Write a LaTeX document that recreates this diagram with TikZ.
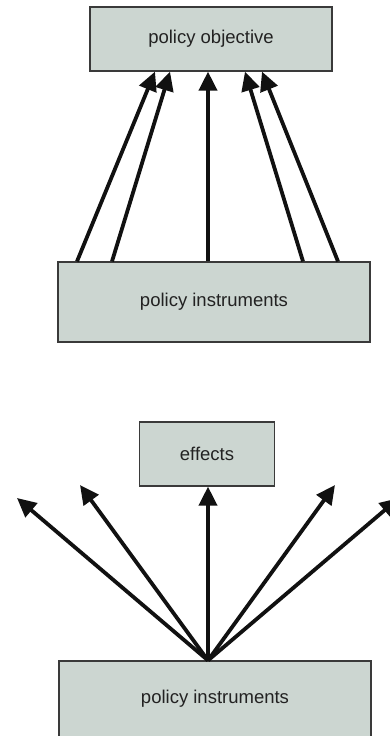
\documentclass[tikz,border=0pt]{standalone}
\usepackage{fontspec}
\setmainfont{Liberation Sans}
\usetikzlibrary{arrows.meta,positioning}

\definecolor{boxfill}{HTML}{CCD6D1}
\definecolor{boxline}{HTML}{3A3A3A}
\definecolor{boxtext}{HTML}{222222}
\definecolor{linkcol}{HTML}{111111}

\tikzset{
  box/.style={draw=boxline, fill=boxfill, line width=1.2pt, inner sep=0pt,
    font=\fontsize{18.5}{22}\selectfont, text=boxtext},
  link/.style={line width=3.8pt, draw=linkcol, fill=linkcol,
    -{Triangle[length=19pt,width=18pt]}},
}

\begin{document}
\begin{tikzpicture}[x=1pt, y=-1pt]
  \useasboundingbox (0,0) rectangle (389,736);

  % one objective, several instruments
  \node[box, minimum width=242pt, minimum height=64pt] (objective) at (211,39) {policy objective};
  \node[box, minimum width=312pt, minimum height=80pt] (instruments) at (214,302) {policy instruments};
  \foreach \a/\b in {-137/-56, -102/-41, -6/-3, 89/34, 124/51}
    \draw[link] ([xshift=\a pt]instruments.north) -- ([xshift=\b pt]objective.south);

  % instruments spreading into effects
  \node[box, minimum width=135pt, minimum height=64pt] (effects) at (207,454) {effects};
  \node[box, minimum width=312pt, minimum height=76pt] (spread) at (215,699) {policy instruments};
  \coordinate (hub) at ([xshift=-7pt]spread.north);
  \coordinate (farleft) at (17,498);
  \coordinate (left) at (80,485);
  \coordinate (right) at (335,485);
  \coordinate (farright) at (399,498);
  \foreach \t in {farleft, left, right, farright}
    \draw[link] (hub) -- (\t);
  \draw[link] (hub) -- (hub |- effects.south);
\end{tikzpicture}
\end{document}
